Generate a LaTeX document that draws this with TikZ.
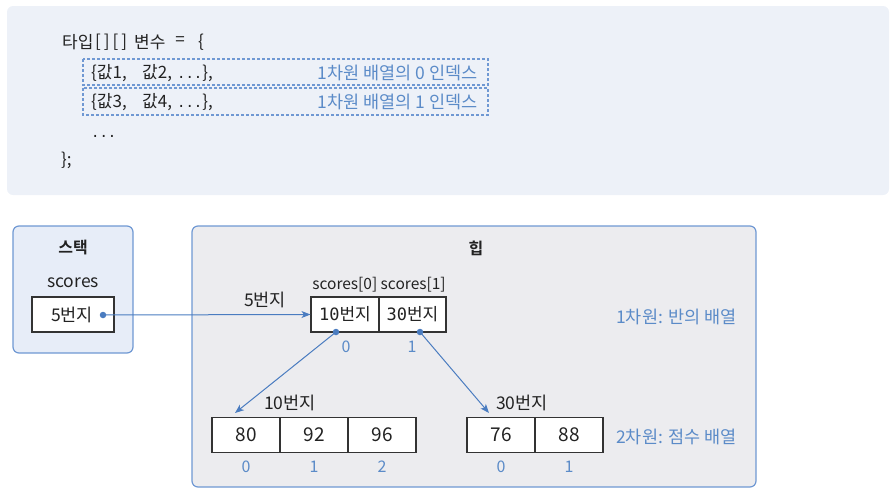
\documentclass[tikz,border=0pt]{standalone}
\usepackage{fontspec}
\setmainfont{Noto Sans CJK KR}[BoldFont={Noto Sans CJK KR Bold}]
\newfontfamily\asciimono{DejaVu Sans Mono}
\newfontfamily\asciismall{DejaVu Sans Mono}[Scale=0.82]
\newcommand\asc[1]{{\asciimono #1}}
\newcommand\ascs[1]{{\asciismall #1}}
\usetikzlibrary{arrows.meta}
\definecolor{codebg}{HTML}{EDF1F8}
\definecolor{stackbg}{HTML}{E7EDF8}
\definecolor{heapbg}{HTML}{ECECEF}
\definecolor{frameblue}{HTML}{6F98D3}
\definecolor{lblblue}{HTML}{5B8BC8}
\definecolor{arrblue}{HTML}{4A7CC0}
\definecolor{txt}{HTML}{222222}
\definecolor{cellline}{HTML}{333333}
\begin{document}
\begin{tikzpicture}[x=1pt,y=-1pt,
  txtnode/.style={inner sep=0pt,text=txt,font=\fontsize{16}{19}\selectfont},
  krtxt/.style={txtnode,font=\fontsize{17.5}{20}\selectfont},
  codetxt/.style={txtnode,anchor=west,font=\fontsize{17}{20}\selectfont},
  bluetxt/.style={inner sep=0pt,text=lblblue,font=\fontsize{17.5}{20}\selectfont},
  idx/.style={inner sep=0pt,text=lblblue,font=\fontsize{16}{18}\selectfont},
  cell/.style={draw=cellline,line width=1.1pt,fill=white,minimum width=68pt,minimum height=35pt,inner sep=0pt,text=txt,font=\fontsize{19}{21}\selectfont},
  dashbox/.style={draw=frameblue,line width=1.2pt,dash pattern=on 3pt off 2pt},
  panel/.style={draw=frameblue,line width=1.2pt,rounded corners=6pt},
  dot/.style={circle,fill=arrblue,inner sep=0pt,minimum size=6.5pt},
  arr/.style={draw=arrblue,line width=1pt,-{Stealth[length=9pt,width=7pt,inset=2.5pt]}}
]
\useasboundingbox (0,0) rectangle (895,498);

% code panel
\fill[codebg,rounded corners=6pt] (7,6) rectangle (889,195);
\node[codetxt] (c0a) at (62,42) {타입};
\node[codetxt] (c0b) at (95,42) {[\hspace{3pt}]\hspace{3pt}[\hspace{3pt}]};
\node[codetxt] (c0c) at (134,42) {변수};
\node[txtnode,font=\fontsize{17}{20}\selectfont] (c0d) at (180,41) {=};
\node[txtnode,font=\fontsize{17}{20}\selectfont] (c0e) at (201,42) {\{};
\draw[dashbox] (83,59) rectangle (488,85);
\draw[dashbox] (83,88) rectangle (488,115);
\node[codetxt] (c1a) at (91,73) {\{값1,};
\node[codetxt] (c1b) at (142,73) {값2,};
\node[codetxt] (c1c) at (177,73) {\ascs{...}\},};
\node[codetxt] (c2a) at (91,102) {\{값3,};
\node[codetxt] (c2b) at (142,102) {값4,};
\node[codetxt] (c2c) at (177,102) {\ascs{...}\},};
\node[bluetxt,anchor=east] (c1l) at (478,73) {1차원 배열의 0 인덱스};
\node[bluetxt,anchor=east] (c2l) at (478,102) {1차원 배열의 1 인덱스};
\node[codetxt] (c3) at (91,136) {\ascs{...}};
\node[codetxt] (c4) at (61,160) {\};};

% stack
\draw[panel,fill=stackbg] (13,226) rectangle (133,353);
\node[txtnode,font=\fontsize{16}{19}\selectfont\bfseries] (st) at (73,248) {스택};
\node[txtnode,font=\fontsize{17.5}{20}\selectfont] (sv) at (73,283) {scores};
\node[draw=cellline,line width=1.1pt,fill=white,minimum width=82pt,minimum height=35pt,inner sep=0pt] (sbox) at (73,314.5) {};
\node[krtxt] at (72,315) {5번지};
\node[dot] (d5) at (103,315) {};

% heap
\draw[panel,fill=heapbg] (192,226) rectangle (756,487);
\node[txtnode,font=\fontsize{16}{19}\selectfont\bfseries] (hp) at (476,248) {힙};
\node[krtxt] (lbl5) at (265,300) {5번지};
\node[txtnode,font=\fontsize{15.5}{18}\selectfont] (sc) at (379,285) {scores[0] scores[1]};
\node[cell,minimum width=68pt,font=\fontsize{17}{20}\selectfont] (a0) at (345,314.5) {\asc{10}번지};
\node[cell,minimum width=67pt,font=\fontsize{17}{20}\selectfont] (a1) at (412.5,314.5) {\asc{30}번지};
\node[dot] (da0) at (336,332) {};
\node[dot] (da1) at (420,332) {};
\node[idx] at (346,347) {0};
\node[idx] at (412,347) {1};
\node[bluetxt,anchor=west] (l1) at (616,317) {1차원: 반의 배열};

\node[krtxt] (lbl10) at (290,403) {10번지};
\node[krtxt] (lbl30) at (522,403) {30번지};
\node[cell] (b0) at (246,435) {80};
\node[cell] (b1) at (314,435) {92};
\node[cell] (b2) at (382,435) {96};
\node[cell] (e0) at (501,435) {76};
\node[cell] (e1) at (569,435) {88};
\node[idx] at (246,467) {0};
\node[idx] at (314,467) {1};
\node[idx] at (382,467) {2};
\node[idx] at (501,467) {0};
\node[idx] at (569,467) {1};
\node[bluetxt,anchor=west] (l2) at (616,437) {2차원: 점수 배열};

\coordinate (t1) at (235,413);
\coordinate (t2) at (489,413);
\draw[arr] (d5.center) -- (a0.west);
\draw[arr] (da0.center) -- (t1);
\draw[arr] (da1.center) -- (t2);
\end{tikzpicture}
\end{document}
